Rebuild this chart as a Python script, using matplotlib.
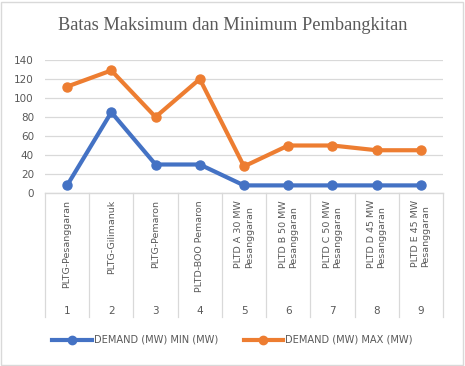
import matplotlib

matplotlib.use("Agg")
import matplotlib.pyplot as plt
from matplotlib.lines import Line2D
from matplotlib.patches import Rectangle

CATEGORIES = [
    "PLTG-Pesanggaran",
    "PLTG-Gilimanuk",
    "PLTG-Pemaron",
    "PLTD-BOO Pemaron",
    "PLTD A 30 MW\nPesanggaran",
    "PLTD B 50 MW\nPesanggaran",
    "PLTD C 50 MW\nPesanggaran",
    "PLTD D 45 MW\nPesanggaran",
    "PLTD E 45 MW\nPesanggaran",
]
NUMBERS = ["1", "2", "3", "4", "5", "6", "7", "8", "9"]
MIN_MW = [8, 85, 30, 30, 8, 8, 8, 8, 8]
MAX_MW = [112, 129, 80, 120, 28, 50, 50, 45, 45]
Y_TICKS = [0, 20, 40, 60, 80, 100, 120, 140]

BLUE = "#4472C4"
ORANGE = "#ED7D31"
GREY_TXT = "#595959"
GRID = "#D9D9D9"

W, H = 465, 366
fig = plt.figure(figsize=(W / 100, H / 100), dpi=100)
fig.patches.append(Rectangle((0.002, 0.003), 0.994, 0.992, transform=fig.transFigure,
                             fill=False, edgecolor="#D9D9D9", lw=1.0))

left, right, top, bottom = 45, 443, 60, 193          # plot area in pixels
ax = fig.add_axes([left / W, 1 - bottom / H, (right - left) / W, (bottom - top) / H])

n = len(CATEGORIES)
x = list(range(n))
ax.plot(x, MIN_MW, color=BLUE, lw=3, marker="o", ms=6.5, solid_capstyle="round",
        label="DEMAND (MW) MIN (MW)", zorder=3)
ax.plot(x, MAX_MW, color=ORANGE, lw=3, marker="o", ms=6.5, solid_capstyle="round",
        label="DEMAND (MW) MAX (MW)", zorder=3)

ax.set_xlim(-0.5, n - 0.5)
ax.set_ylim(0, 140)
ax.set_yticks(Y_TICKS)
ax.tick_params(axis="y", length=0, labelsize=7.5, labelcolor=GREY_TXT, pad=8)
ax.set_xticks([])
ax.grid(axis="y", color=GRID, lw=0.9)
ax.set_axisbelow(True)
for s in ["left", "right", "top"]:
    ax.spines[s].set_visible(False)
ax.spines["bottom"].set_color(GRID)
ax.spines["bottom"].set_linewidth(1.0)

# multi-level category axis below the plot
axis_h = bottom - top
depth = (317 - bottom) / axis_h
for b in range(n + 1):
    ax.plot([b - 0.5, b - 0.5], [0, -depth], transform=ax.get_xaxis_transform(),
            color=GRID, lw=0.9, clip_on=False)
lab_y = -(200 - bottom) / axis_h
num_y = -(311 - bottom) / axis_h
for i, (lab, num) in enumerate(zip(CATEGORIES, NUMBERS)):
    ax.text(i, lab_y, lab, transform=ax.get_xaxis_transform(), rotation=90,
            ha="center", va="top", fontsize=6.8, color=GREY_TXT, multialignment="left")
    ax.text(i, num_y, num, transform=ax.get_xaxis_transform(),
            ha="center", va="center", fontsize=7.5, color=GREY_TXT)

fig.text(0.5, 1 - 25 / H, "Batas Maksimum dan Minimum Pembangkitan",
         ha="center", va="center", fontsize=13.2, color=GREY_TXT, family="Liberation Serif")

handles = [Line2D([], [], color=BLUE, lw=3, marker="o", ms=6),
           Line2D([], [], color=ORANGE, lw=3, marker="o", ms=6)]
fig.legend(handles, ["DEMAND (MW) MIN (MW)", "DEMAND (MW) MAX (MW)"],
           loc="center", bbox_to_anchor=(0.5, 1 - 340 / H), ncol=2, frameon=False,
           fontsize=7.1, labelcolor=GREY_TXT, handlelength=4.0, handletextpad=0.2,
           columnspacing=2.6)

fig.savefig("out.png", dpi=100)
